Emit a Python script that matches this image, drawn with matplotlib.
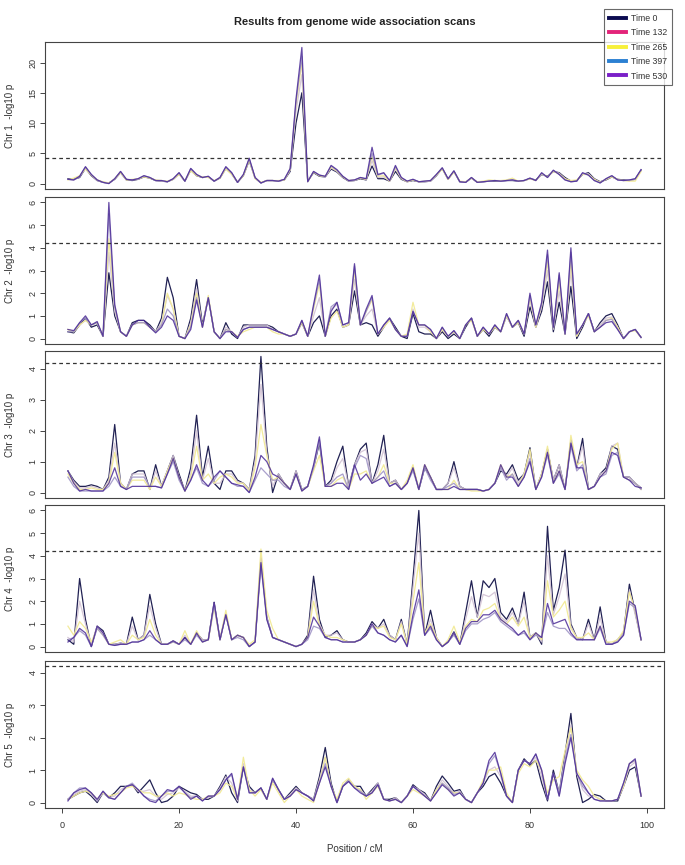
import numpy as np
import matplotlib
matplotlib.use("Agg")
import matplotlib.pyplot as plt
from matplotlib.lines import Line2D
from matplotlib.ticker import MultipleLocator

plt.rcParams['font.family'] = ['Liberation Sans', 'DejaVu Sans']

title = "Results from genome wide association scans"
series_labels = ["Time 0", "Time 132", "Time 265", "Time 397", "Time 530"]
chrom_labels = ["Chr 1  -log10 p", "Chr 2  -log10 p", "Chr 3  -log10 p",
                "Chr 4  -log10 p", "Chr 5  -log10 p"]
x_label = "Position / cM"
x_ticks = [0, 20, 40, 60, 80, 100]
threshold = 4.2
positions = list(range(1, 100))  # cM

# ---------------- Chr 1 ----------------
chr1_t0 = [0.8,0.7,1.0,2.5,1.3,0.5,0.2,0.1,0.7,1.8,
           0.6,0.5,0.7,1.1,0.9,0.5,0.4,0.3,0.7,1.6,
           0.4,2.2,1.3,1.0,1.1,0.4,0.9,2.5,1.6,0.2,
           1.3,3.8,0.9,0.1,0.5,0.5,0.4,0.6,2.0,10.0,
           15.0,0.4,1.8,1.2,1.1,2.4,1.9,1.0,0.4,0.5,
           0.8,0.6,2.9,0.8,0.8,0.4,2.0,0.7,0.3,0.5,
           0.3,0.3,0.4,1.3,2.5,0.7,2.0,0.3,0.2,0.9,
           0.2,0.3,0.4,0.4,0.4,0.5,0.5,0.4,0.5,0.8,
           0.6,1.5,1.2,2.0,1.8,1.0,0.4,0.5,1.5,1.8,
           0.8,0.3,0.6,1.1,0.7,0.6,0.5,0.7,2.2]
chr1_t132 = [0.7,0.6,1.1,2.6,1.4,0.5,0.2,0.05,0.7,1.9,
             0.6,0.6,0.7,1.2,1.0,0.5,0.4,0.3,0.7,1.7,
             0.4,2.3,1.4,1.0,1.1,0.4,1.0,2.6,1.7,0.2,
             1.4,4.0,0.9,0.1,0.5,0.5,0.4,0.6,2.2,12.0,
             18.0,0.4,1.9,1.3,1.1,2.6,2.0,1.1,0.4,0.5,
             0.9,0.7,3.8,1.0,1.1,0.4,2.4,0.8,0.3,0.6,
             0.3,0.3,0.4,1.4,2.5,0.7,2.0,0.3,0.2,0.9,
             0.2,0.3,0.4,0.5,0.4,0.5,0.6,0.4,0.5,0.8,
             0.5,1.6,1.1,2.1,1.7,0.8,0.3,0.4,1.6,1.6,
             0.7,0.2,0.7,1.2,0.6,0.5,0.5,0.7,2.2]
chr1_t265 = [0.6,0.9,1.3,2.4,1.4,0.6,0.3,0.1,0.8,1.8,
             0.6,0.7,0.8,1.1,0.9,0.6,0.5,0.4,0.7,1.5,
             0.5,2.1,1.3,1.1,1.0,0.5,0.9,2.4,1.5,0.3,
             1.3,3.9,0.8,0.2,0.5,0.5,0.5,0.6,2.3,13.0,
             20.0,0.3,1.9,1.3,1.2,2.7,2.1,1.1,0.5,0.6,
             0.9,0.7,4.5,1.2,1.3,0.4,2.6,0.9,0.3,0.6,
             0.3,0.4,0.5,1.4,2.4,0.7,1.9,0.4,0.3,0.9,
             0.3,0.4,0.6,0.5,0.5,0.6,0.9,0.4,0.5,0.8,
             0.5,1.6,1.1,2.0,1.6,0.8,0.5,0.6,1.5,1.5,
             0.7,0.2,0.7,1.1,0.7,0.5,0.4,0.4,2.0]
chr1_t397 = [0.7,0.6,1.2,2.7,1.5,0.6,0.2,0.0,0.8,2.0,
             0.7,0.6,0.8,1.3,1.0,0.5,0.5,0.3,0.8,1.8,
             0.4,2.5,1.5,1.0,1.2,0.4,1.0,2.7,1.8,0.2,
             1.5,4.1,1.0,0.1,0.5,0.5,0.4,0.7,2.4,13.5,
             21.0,0.3,2.0,1.4,1.2,2.9,2.2,1.2,0.5,0.6,
             1.0,0.8,5.0,1.4,1.7,0.5,2.8,1.0,0.4,0.7,
             0.3,0.4,0.5,1.5,2.6,0.8,2.1,0.3,0.2,1.0,
             0.2,0.3,0.4,0.5,0.4,0.5,0.6,0.4,0.5,0.9,
             0.5,1.7,1.0,2.2,1.5,0.6,0.3,0.4,1.7,1.4,
             0.5,0.1,0.8,1.3,0.6,0.5,0.6,0.8,2.3]
chr1_t530 = [0.7,0.6,1.2,2.8,1.5,0.6,0.2,0.0,0.8,2.0,
             0.7,0.6,0.8,1.3,1.0,0.5,0.5,0.3,0.8,1.8,
             0.4,2.5,1.5,1.0,1.2,0.4,1.0,2.8,1.8,0.2,
             1.5,4.2,1.0,0.1,0.5,0.5,0.4,0.7,2.5,14.0,
             22.5,0.3,2.0,1.4,1.2,3.0,2.3,1.2,0.5,0.6,
             1.0,0.8,6.0,1.5,1.8,0.5,3.0,1.0,0.4,0.7,
             0.3,0.4,0.5,1.5,2.6,0.8,2.1,0.3,0.2,1.0,
             0.2,0.3,0.4,0.5,0.4,0.5,0.6,0.4,0.5,0.9,
             0.5,1.8,1.0,2.2,1.5,0.6,0.3,0.4,1.8,1.4,
             0.5,0.1,0.8,1.3,0.6,0.5,0.6,0.8,2.3]

# ---------------- Chr 2 ----------------
chr2_t0 = [0.3,0.25,0.6,0.9,0.5,0.6,0.1,2.9,1.0,0.3,
           0.1,0.7,0.8,0.8,0.6,0.3,0.9,2.7,1.8,0.1,
           0.0,0.9,2.6,0.6,1.8,0.3,0.0,0.7,0.2,0.0,
           0.6,0.6,0.6,0.6,0.6,0.5,0.3,0.2,0.1,0.2,
           0.7,0.1,0.7,1.0,0.1,1.0,1.3,0.5,0.6,2.1,
           0.6,0.7,0.6,0.1,0.5,0.9,0.5,0.1,0.0,1.1,
           0.3,0.2,0.2,0.0,0.3,0.0,0.2,0.0,0.5,0.9,
           0.1,0.4,0.1,0.5,0.3,1.0,0.5,0.7,0.1,1.4,
           0.5,1.2,2.5,0.3,1.6,0.2,2.3,0.0,0.5,1.1,
           0.3,0.7,1.0,1.1,0.6,0.0,0.3,0.4,0.05]
chr2_t132 = [0.4,0.3,0.6,0.8,0.6,0.7,0.1,3.8,1.2,0.3,
             0.1,0.6,0.7,0.7,0.5,0.3,0.7,1.9,1.3,0.1,
             0.0,0.7,2.2,0.5,1.8,0.3,0.0,0.5,0.3,0.05,
             0.5,0.6,0.6,0.6,0.6,0.4,0.3,0.2,0.1,0.2,
             0.8,0.1,1.0,1.8,0.1,1.3,1.5,0.5,0.6,2.6,
             0.6,1.0,1.3,0.2,0.5,0.9,0.4,0.1,0.1,1.3,
             0.5,0.5,0.3,0.0,0.4,0.1,0.3,0.0,0.6,0.9,
             0.1,0.5,0.2,0.6,0.3,1.0,0.5,0.8,0.2,1.7,
             0.5,1.4,3.0,0.4,2.1,0.2,3.0,0.1,0.6,1.1,
             0.3,0.6,0.9,0.95,0.5,0.0,0.3,0.4,0.05]
chr2_t265 = [0.4,0.3,0.6,0.8,0.6,0.7,0.1,4.4,1.4,0.3,
             0.1,0.6,0.7,0.7,0.5,0.3,0.6,2.0,1.3,0.1,
             0.0,0.6,2.0,0.5,1.9,0.3,0.0,0.4,0.3,0.1,
             0.3,0.4,0.5,0.5,0.5,0.3,0.2,0.2,0.1,0.2,
             0.7,0.1,1.3,2.4,0.1,0.9,1.2,0.5,0.6,3.0,
             0.6,1.2,1.7,0.2,0.5,0.8,0.4,0.1,0.2,1.6,
             0.6,0.6,0.3,0.0,0.4,0.1,0.3,0.0,0.6,0.8,
             0.1,0.4,0.2,0.5,0.3,1.0,0.5,0.7,0.2,1.8,
             0.5,1.5,3.4,0.5,2.5,0.2,3.4,0.1,0.6,1.0,
             0.3,0.5,0.8,0.9,0.5,0.0,0.3,0.35,0.05]
chr2_t397 = [0.3,0.3,0.7,0.9,0.6,0.7,0.1,5.5,1.4,0.3,
             0.1,0.6,0.7,0.7,0.5,0.3,0.6,1.3,1.0,0.1,
             0.0,0.5,1.8,0.5,1.8,0.3,0.0,0.4,0.3,0.05,
             0.4,0.5,0.5,0.5,0.5,0.4,0.3,0.2,0.1,0.2,
             0.8,0.1,1.4,2.6,0.1,1.4,1.6,0.6,0.7,3.2,
             0.6,1.2,1.8,0.2,0.6,0.9,0.4,0.1,0.1,1.2,
             0.6,0.6,0.4,0.0,0.5,0.1,0.35,0.0,0.6,0.9,
             0.1,0.5,0.2,0.6,0.3,1.1,0.5,0.8,0.2,1.9,
             0.6,1.5,3.7,0.5,2.8,0.2,3.8,0.2,0.6,1.1,
             0.3,0.5,0.8,0.85,0.4,0.0,0.3,0.4,0.05]
chr2_t530 = [0.4,0.35,0.7,1.0,0.6,0.75,0.1,6.0,1.5,0.3,
             0.1,0.6,0.8,0.8,0.5,0.25,0.5,1.0,0.8,0.1,
             0.0,0.4,1.7,0.5,1.8,0.3,0.0,0.3,0.3,0.05,
             0.4,0.5,0.5,0.5,0.5,0.4,0.3,0.2,0.1,0.2,
             0.8,0.1,1.5,2.8,0.1,1.2,1.6,0.6,0.7,3.3,
             0.6,1.3,1.9,0.2,0.6,0.9,0.4,0.1,0.1,1.2,
             0.6,0.6,0.4,0.0,0.5,0.1,0.35,0.0,0.6,0.9,
             0.1,0.5,0.2,0.6,0.3,1.1,0.5,0.8,0.2,2.0,
             0.6,1.6,3.9,0.5,2.9,0.2,4.0,0.2,0.6,1.1,
             0.3,0.5,0.7,0.75,0.4,0.0,0.3,0.4,0.05]

# ---------------- Chr 3 ----------------
chr3_t0 = [0.7,0.4,0.2,0.2,0.25,0.2,0.1,0.5,2.2,0.3,
           0.1,0.6,0.7,0.7,0.1,0.9,0.2,0.7,1.2,0.6,
           0.05,0.8,2.5,0.5,1.5,0.3,0.1,0.7,0.7,0.4,
           0.3,0.1,1.2,4.4,1.5,0.0,0.6,0.3,0.1,0.7,
           0.1,0.2,0.8,1.6,0.2,0.4,1.0,1.5,0.2,0.9,
           1.4,1.6,0.3,0.9,1.85,0.3,0.4,0.1,0.3,0.8,
           0.1,0.8,0.5,0.1,0.1,0.3,1.0,0.2,0.1,0.1,
           0.1,0.05,0.1,0.3,0.7,0.6,0.9,0.4,0.6,1.45,
           0.1,0.6,1.4,0.4,0.9,0.1,1.7,0.8,1.75,0.1,
           0.2,0.6,0.8,1.5,1.4,0.5,0.5,0.3,0.15]
chr3_t132 = [0.7,0.35,0.15,0.15,0.2,0.15,0.1,0.4,1.6,0.3,
             0.1,0.6,0.6,0.6,0.1,0.7,0.2,0.7,1.2,0.5,
             0.05,0.6,2.0,0.4,1.1,0.3,0.3,0.6,0.6,0.35,
             0.3,0.1,1.0,3.5,1.3,0.2,0.6,0.3,0.1,0.7,
             0.1,0.2,0.8,1.7,0.2,0.3,0.8,1.1,0.2,0.9,
             1.3,1.4,0.3,0.7,1.4,0.3,0.4,0.1,0.3,0.8,
             0.1,0.9,0.5,0.1,0.1,0.3,0.8,0.2,0.1,0.1,
             0.1,0.05,0.1,0.3,0.8,0.5,0.8,0.3,0.6,1.3,
             0.1,0.6,1.4,0.4,0.9,0.1,1.7,0.8,1.5,0.1,
             0.2,0.6,0.7,1.5,1.6,0.5,0.5,0.3,0.15]
chr3_t265 = [0.6,0.3,0.1,0.1,0.15,0.1,0.1,0.3,1.3,0.3,
             0.1,0.4,0.4,0.4,0.1,0.5,0.2,0.7,1.1,0.5,
             0.05,0.5,1.5,0.4,0.6,0.3,0.5,0.6,0.5,0.3,
             0.3,0.05,0.8,2.2,1.2,0.4,0.5,0.3,0.1,0.6,
             0.05,0.2,0.7,1.2,0.2,0.2,0.4,0.5,0.1,0.6,
             0.6,0.7,0.3,0.5,0.9,0.3,0.3,0.1,0.4,0.9,
             0.1,0.9,0.5,0.1,0.1,0.1,0.4,0.1,0.1,0.05,
             0.05,0.05,0.1,0.3,0.9,0.5,0.6,0.2,0.6,1.4,
             0.1,0.6,1.5,0.3,0.7,0.1,1.85,0.9,1.0,0.1,
             0.2,0.5,0.7,1.4,1.6,0.5,0.4,0.3,0.1]
chr3_t397 = [0.5,0.2,0.05,0.05,0.05,0.05,0.05,0.2,0.5,0.2,
             0.1,0.5,0.5,0.5,0.2,0.2,0.15,0.6,1.0,0.4,
             0.05,0.4,0.8,0.3,0.2,0.4,0.7,0.5,0.3,0.2,
             0.2,0.0,0.4,0.8,0.6,0.4,0.4,0.2,0.1,0.6,
             0.05,0.2,0.8,1.7,0.2,0.3,0.5,0.6,0.1,0.8,
             1.2,1.1,0.3,0.5,0.7,0.2,0.3,0.1,0.3,0.7,
             0.1,0.8,0.4,0.1,0.1,0.2,0.3,0.1,0.1,0.1,
             0.1,0.05,0.1,0.3,0.8,0.4,0.6,0.2,0.5,1.1,
             0.1,0.5,1.2,0.3,0.6,0.1,1.5,0.7,0.9,0.1,
             0.2,0.5,0.6,1.2,1.3,0.5,0.4,0.3,0.1]
chr3_t530 = [0.7,0.3,0.05,0.1,0.05,0.05,0.05,0.3,0.8,0.2,
             0.1,0.2,0.2,0.2,0.2,0.2,0.15,0.6,1.1,0.5,
             0.05,0.4,0.9,0.4,0.2,0.5,0.7,0.5,0.3,0.25,
             0.2,0.0,0.5,1.2,1.0,0.6,0.5,0.3,0.1,0.6,
             0.05,0.2,0.9,1.8,0.2,0.2,0.3,0.3,0.1,0.9,
             0.4,0.6,0.3,0.4,0.5,0.2,0.3,0.1,0.3,0.8,
             0.1,0.9,0.5,0.1,0.1,0.1,0.2,0.1,0.1,0.1,
             0.1,0.05,0.1,0.3,0.9,0.5,0.5,0.2,0.5,1.0,
             0.1,0.5,1.3,0.3,0.7,0.1,1.6,0.8,0.8,0.1,
             0.2,0.5,0.7,1.3,1.2,0.5,0.4,0.2,0.15]

# ---------------- Chr 4 ----------------
chr4_t0 = [0.3,0.1,3.0,1.2,0.0,0.9,0.7,0.1,0.1,0.15,
           0.1,1.3,0.3,0.5,2.3,1.0,0.1,0.1,0.25,0.1,
           0.4,0.1,0.6,0.3,0.3,1.95,0.3,1.45,0.3,0.5,
           0.4,0.0,0.2,3.9,1.3,0.4,0.3,0.2,0.1,0.0,
           0.1,0.5,3.1,1.2,0.4,0.5,0.7,0.3,0.2,0.2,
           0.3,0.6,1.1,0.8,1.2,0.5,0.3,1.2,0.1,3.0,
           6.0,0.5,1.6,0.4,0.0,0.2,0.65,0.1,1.5,2.9,
           1.3,2.9,2.6,3.0,1.5,1.2,1.7,1.0,2.4,0.4,
           0.6,0.1,5.3,1.6,2.6,4.25,1.0,0.4,0.3,1.2,
           0.3,1.75,0.2,0.1,0.3,0.6,2.75,1.5,0.3]
chr4_t132 = [0.4,0.2,2.0,1.0,0.1,0.9,0.6,0.1,0.1,0.15,
             0.1,0.9,0.3,0.5,1.8,0.8,0.1,0.1,0.25,0.1,
             0.5,0.1,0.6,0.3,0.3,1.9,0.3,1.45,0.3,0.5,
             0.4,0.0,0.2,4.0,1.3,0.4,0.3,0.2,0.1,0.0,
             0.1,0.4,2.5,1.0,0.5,0.5,0.6,0.3,0.2,0.2,
             0.3,0.5,1.0,0.8,1.0,0.5,0.3,1.1,0.1,2.6,
             5.0,0.5,1.2,0.4,0.0,0.2,0.6,0.1,1.2,2.2,
             1.3,2.3,2.2,2.4,1.3,1.1,1.5,1.0,2.0,0.4,
             0.6,0.2,4.0,1.4,2.2,3.2,0.9,0.4,0.3,1.0,
             0.3,1.3,0.2,0.1,0.3,0.6,2.5,1.4,0.3]
chr4_t265 = [0.9,0.5,1.1,0.8,0.2,0.8,0.5,0.1,0.2,0.3,
             0.1,0.5,0.3,0.4,1.2,0.5,0.1,0.1,0.2,0.1,
             0.7,0.1,0.7,0.2,0.3,1.7,0.3,1.6,0.3,0.5,
             0.4,0.1,0.3,4.3,1.6,0.8,0.3,0.2,0.1,0.0,
             0.1,0.4,2.0,0.9,0.5,0.4,0.4,0.3,0.2,0.2,
             0.3,0.5,0.9,0.8,0.9,0.4,0.3,1.0,0.1,2.0,
             3.7,0.6,1.0,0.4,0.0,0.3,0.9,0.2,0.9,1.2,
             1.1,1.6,1.7,1.9,1.2,1.0,1.3,0.9,1.3,0.4,
             0.6,0.3,2.9,1.3,1.6,2.0,0.8,0.4,0.4,0.6,
             0.3,0.9,0.2,0.2,0.3,0.7,2.4,1.6,0.3]
chr4_t397 = [0.3,0.4,0.7,0.5,0.0,0.8,0.5,0.1,0.05,0.1,
             0.1,0.2,0.2,0.3,0.5,0.3,0.1,0.1,0.2,0.1,
             0.3,0.1,0.5,0.2,0.3,1.8,0.3,1.4,0.3,0.4,
             0.3,0.0,0.2,3.6,1.2,0.4,0.3,0.2,0.1,0.0,
             0.1,0.3,0.9,0.8,0.4,0.3,0.3,0.2,0.2,0.2,
             0.3,0.5,0.9,0.6,0.5,0.3,0.2,0.5,0.0,1.2,
             2.1,0.5,0.8,0.3,0.0,0.2,0.5,0.1,0.7,1.0,
             1.0,1.2,1.3,1.5,1.1,0.9,0.7,0.5,0.6,0.3,
             0.5,0.4,1.5,0.9,0.8,0.8,0.5,0.3,0.3,0.3,
             0.3,0.8,0.1,0.1,0.2,0.5,1.9,1.7,0.3]
chr4_t530 = [0.2,0.4,0.8,0.6,0.0,0.9,0.6,0.1,0.05,0.1,
             0.1,0.2,0.2,0.3,0.7,0.3,0.1,0.1,0.25,0.1,
             0.4,0.1,0.6,0.2,0.3,1.95,0.3,1.4,0.3,0.5,
             0.4,0.0,0.2,3.7,1.2,0.4,0.3,0.2,0.1,0.0,
             0.1,0.4,1.3,0.9,0.4,0.3,0.3,0.2,0.2,0.2,
             0.3,0.5,1.0,0.6,0.5,0.3,0.2,0.5,0.0,1.4,
             2.5,0.5,0.9,0.3,0.0,0.2,0.6,0.1,0.8,1.1,
             1.1,1.4,1.4,1.6,1.2,1.0,0.8,0.5,0.7,0.3,
             0.6,0.4,1.9,1.0,1.1,1.2,0.6,0.3,0.3,0.3,
             0.3,0.9,0.1,0.1,0.2,0.5,2.0,1.8,0.3]

# ---------------- Chr 5 ----------------
chr5_t0 = [0.1,0.2,0.3,0.35,0.2,0.0,0.3,0.15,0.3,0.5,
           0.5,0.55,0.3,0.5,0.7,0.3,0.0,0.05,0.2,0.5,
           0.4,0.3,0.25,0.1,0.1,0.2,0.5,0.85,0.3,0.0,
           1.1,0.5,0.3,0.45,0.1,0.7,0.4,0.1,0.3,0.5,
           0.3,0.2,0.1,0.8,1.7,0.6,0.0,0.5,0.7,0.5,
           0.5,0.2,0.4,0.6,0.1,0.1,0.15,0.0,0.2,0.55,
           0.4,0.3,0.05,0.5,0.82,0.6,0.35,0.4,0.1,0.0,
           0.3,0.5,0.8,0.9,0.6,0.2,0.0,1.0,1.35,1.15,
           1.3,0.6,0.05,1.0,0.3,1.5,2.75,0.8,0.0,0.1,
           0.25,0.2,0.05,0.05,0.05,0.5,1.0,1.1,0.2]
chr5_t132 = [0.1,0.25,0.35,0.4,0.25,0.05,0.3,0.15,0.2,0.4,
             0.5,0.55,0.35,0.35,0.4,0.2,0.1,0.25,0.3,0.45,
             0.35,0.2,0.2,0.1,0.15,0.2,0.45,0.8,0.6,0.05,
             1.2,0.4,0.3,0.4,0.1,0.7,0.4,0.1,0.25,0.45,
             0.3,0.2,0.1,0.7,1.4,0.5,0.0,0.5,0.7,0.5,
             0.4,0.2,0.35,0.6,0.1,0.05,0.15,0.0,0.2,0.5,
             0.4,0.25,0.05,0.4,0.7,0.5,0.3,0.35,0.1,0.0,
             0.3,0.6,1.0,1.1,0.8,0.2,0.0,1.0,1.3,1.2,
             1.4,0.8,0.1,0.9,0.3,1.4,2.4,0.9,0.4,0.2,
             0.2,0.1,0.05,0.05,0.1,0.5,1.1,1.25,0.2]
chr5_t265 = [0.1,0.2,0.3,0.35,0.3,0.1,0.3,0.2,0.25,0.3,
             0.45,0.5,0.4,0.3,0.3,0.2,0.2,0.3,0.2,0.3,
             0.25,0.15,0.1,0.1,0.2,0.2,0.3,0.6,0.5,0.1,
             1.4,0.4,0.2,0.4,0.1,0.6,0.3,0.0,0.2,0.4,
             0.2,0.1,0.0,0.6,1.4,0.5,0.1,0.6,0.75,0.5,
             0.4,0.1,0.3,0.5,0.1,0.05,0.1,0.0,0.2,0.4,
             0.3,0.2,0.05,0.4,0.6,0.4,0.3,0.3,0.1,0.0,
             0.3,0.7,1.0,1.0,1.1,0.3,0.0,0.9,1.2,1.1,
             1.3,1.0,0.3,0.7,0.8,1.6,2.3,1.0,0.7,0.5,
             0.2,0.1,0.05,0.05,0.1,0.5,1.2,1.3,0.2]
chr5_t397 = [0.1,0.3,0.45,0.45,0.3,0.05,0.35,0.15,0.1,0.3,
             0.5,0.6,0.4,0.2,0.1,0.05,0.2,0.35,0.35,0.5,
             0.3,0.15,0.2,0.05,0.2,0.2,0.4,0.7,0.85,0.1,
             1.1,0.3,0.3,0.45,0.1,0.75,0.4,0.1,0.2,0.4,
             0.3,0.2,0.05,0.6,1.2,0.5,0.0,0.5,0.65,0.45,
             0.35,0.2,0.3,0.55,0.1,0.05,0.1,0.0,0.2,0.5,
             0.35,0.2,0.05,0.3,0.6,0.45,0.25,0.3,0.1,0.0,
             0.3,0.6,1.2,1.45,0.9,0.2,0.0,1.0,1.3,1.2,
             1.5,1.0,0.1,0.9,0.2,1.3,2.1,0.9,0.5,0.3,
             0.1,0.05,0.05,0.05,0.1,0.6,1.2,1.3,0.2]
chr5_t530 = [0.05,0.3,0.4,0.45,0.3,0.1,0.35,0.15,0.1,0.3,
             0.5,0.55,0.4,0.2,0.05,0.0,0.2,0.4,0.35,0.5,
             0.3,0.1,0.2,0.05,0.2,0.2,0.4,0.7,0.9,0.1,
             1.1,0.3,0.3,0.45,0.1,0.75,0.4,0.1,0.2,0.4,
             0.3,0.2,0.05,0.6,1.1,0.5,0.0,0.5,0.65,0.45,
             0.3,0.2,0.3,0.55,0.1,0.05,0.1,0.0,0.2,0.5,
             0.35,0.2,0.05,0.3,0.55,0.4,0.2,0.3,0.1,0.0,
             0.3,0.6,1.3,1.55,0.9,0.2,0.0,1.0,1.3,1.2,
             1.5,1.0,0.1,0.9,0.2,1.2,2.0,0.9,0.6,0.3,
             0.1,0.05,0.05,0.05,0.1,0.6,1.2,1.35,0.2]

chromosomes = [
    [chr1_t0, chr1_t132, chr1_t265, chr1_t397, chr1_t530],
    [chr2_t0, chr2_t132, chr2_t265, chr2_t397, chr2_t530],
    [chr3_t0, chr3_t132, chr3_t265, chr3_t397, chr3_t530],
    [chr4_t0, chr4_t132, chr4_t265, chr4_t397, chr4_t530],
    [chr5_t0, chr5_t132, chr5_t265, chr5_t397, chr5_t530],
]
y_steps = [5, 1, 1, 1, 1]

# styles
plot_colors = ['#15154a', '#d2c2d4', '#f2ea96', '#a095c6', '#4a2a96']
plot_alpha = [0.95, 0.9, 0.95, 0.9, 0.85]
plot_order = [1, 2, 3, 0, 4]
legend_colors = ['#0b0b50', '#e32479', '#f7f03a', '#2b80d2', '#7a1fc8']

W, H = 685, 865
fig = plt.figure(figsize=(W / 100, H / 100), dpi=100)
left_px, right_px = 45, 664
tops = [42, 197, 351, 505, 661]
height_px = 147
edge = '#444444'
text_col = '#333333'

for i, series in enumerate(chromosomes):
    ax = fig.add_axes([left_px / W, 1 - (tops[i] + height_px) / H,
                       (right_px - left_px) / W, height_px / H])
    for k in plot_order:
        vals = series[k]
        ax.plot(positions[:len(vals)], vals, color=plot_colors[k],
                lw=0.9, alpha=plot_alpha[k], zorder=2 + k * 0.1,
                solid_joinstyle='round')
    ax.axhline(threshold, color='#333333', lw=0.9, dashes=(3, 2.5), zorder=3)
    ymax = max(max(max(s) for s in series), threshold)
    pad = 0.04 * ymax
    ax.set_ylim(-pad, ymax + pad)
    ax.set_xlim(1 - 0.04 * 98, 99 + 0.04 * 98)
    ax.yaxis.set_major_locator(MultipleLocator(y_steps[i]))
    for sp in ax.spines.values():
        sp.set_color(edge)
        sp.set_linewidth(0.8)
    ax.tick_params(axis='y', direction='out', length=3.5, width=0.7,
                   color=edge, labelsize=6.5, labelcolor=text_col, pad=2)
    for lab in ax.get_yticklabels():
        lab.set_rotation(90)
        lab.set_va('center')
    ax.set_ylabel(chrom_labels[i], fontsize=7, color=text_col)
    ax.yaxis.set_label_coords((15 - left_px) / (right_px - left_px), 0.5)
    if i < 4:
        ax.set_xticks([])
    else:
        ax.set_xticks(x_ticks)
        ax.tick_params(axis='x', direction='out', length=3.5, width=0.7,
                       color=edge, labelsize=6.5, labelcolor=text_col, pad=6)
        ax.set_xlabel(x_label, fontsize=7, color=text_col, labelpad=10)

fig.text((left_px + right_px) / 2 / W, 1 - 22 / H, title,
         ha='center', va='center', fontsize=8, fontweight='bold', color='#222222')

handles = [Line2D([0], [0], color=c, lw=2.8) for c in legend_colors]
leg = fig.legend(handles, series_labels, loc='upper left',
                 bbox_to_anchor=(604 / W, 1 - 9 / H), frameon=True,
                 fancybox=False, fontsize=6.3, handlelength=2.0,
                 handletextpad=0.5, labelspacing=0.62, borderpad=0.55,
                 borderaxespad=0)
leg.get_frame().set_edgecolor(edge)
leg.get_frame().set_linewidth(0.8)
for t in leg.get_texts():
    t.set_color(text_col)

fig.savefig('out.png', dpi=100)
